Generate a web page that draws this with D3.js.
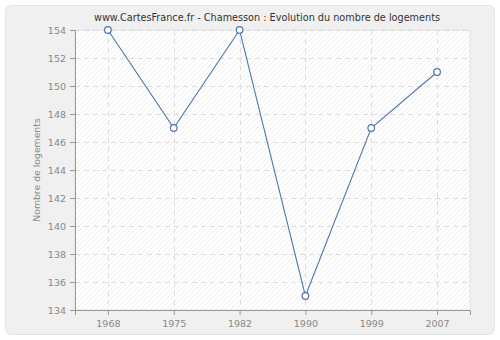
<!DOCTYPE html>
<html>
<head>
<meta charset="utf-8">
<script src="https://cdn.jsdelivr.net/npm/d3@7"></script>
<style>
  body { margin: 0; background: #fff; }
  svg { display: block; font-family: "DejaVu Sans", sans-serif; }
</style>
</head>
<body>
<svg id="chart" width="500" height="340"></svg>
<script>
const years = ["1968", "1975", "1982", "1990", "1999", "2007"];
const logements = [154, 147, 154, 135, 147, 151];
const yTicks = [134, 136, 138, 140, 142, 144, 146, 148, 150, 152, 154];

let chart = d3.select("#chart"),
    margin = {top: 30, right: 30, bottom: 30, left: 75},
    width = +chart.attr("width") - margin.left - margin.right,
    height = +chart.attr("height") - margin.top - margin.bottom;

// outer frame
chart.append("rect")
    .attr("x", 5.5).attr("y", 5.5)
    .attr("width", 489).attr("height", 329)
    .attr("rx", 6).attr("ry", 6)
    .attr("fill", "#f0f0f0")
    .attr("stroke", "#e4e4e4");

// hatch pattern for the plot background
let defs = chart.append("defs");
let pat = defs.append("pattern")
    .attr("id", "hatch")
    .attr("patternUnits", "userSpaceOnUse")
    .attr("width", 5).attr("height", 5);
pat.append("rect").attr("width", 5).attr("height", 5).attr("fill", "#ffffff");
pat.append("path")
    .attr("d", "M0,5 L5,0 M-1,1 L1,-1 M4,6 L6,4")
    .attr("stroke", "#e8e8e8")
    .attr("stroke-width", 0.8);

chart.append("text")
    .attr("x", 267).attr("y", 21)
    .attr("text-anchor", "middle")
    .attr("font-size", 9.7)
    .attr("fill", "#333")
    .text("www.CartesFrance.fr - Chamesson : Evolution du nombre de logements");

let focus = chart.append("g")
    .attr("transform", "translate(" + margin.left + "," + margin.top + ")");

let x = d3.scalePoint()
    .domain(years)
    .range([0, width])
    .padding(0.5);

let y = d3.scaleLinear()
    .domain([134, 154])
    .range([height, 0]);

focus.append("rect")
    .attr("width", width).attr("height", height)
    .attr("fill", "url(#hatch)")
    .attr("stroke", "#e2e2e2");

// grid lines
focus.append("g")
    .selectAll("line")
    .data(yTicks)
    .enter().append("line")
    .attr("x1", 0).attr("x2", width)
    .attr("y1", d => Math.round(y(d)) + 0.5)
    .attr("y2", d => Math.round(y(d)) + 0.5)
    .attr("stroke", "#dddddd")
    .attr("stroke-dasharray", "5,4");

focus.append("g")
    .selectAll("line")
    .data(years)
    .enter().append("line")
    .attr("x1", d => Math.round(x(d)) + 0.5)
    .attr("x2", d => Math.round(x(d)) + 0.5)
    .attr("y1", 0).attr("y2", height)
    .attr("stroke", "#dddddd")
    .attr("stroke-dasharray", "5,4");

// axes
let yAxis = focus.append("g")
    .call(d3.axisLeft(y).tickValues(yTicks).tickSize(5).tickPadding(4));
let xAxis = focus.append("g")
    .attr("transform", "translate(0," + height + ")")
    .call(d3.axisBottom(x).tickSize(5).tickPadding(5));

[xAxis, yAxis].forEach(function(a) {
    a.select(".domain").attr("stroke", "#999");
    a.selectAll(".tick line").attr("stroke", "#999");
    a.selectAll(".tick text")
        .attr("fill", "#888")
        .attr("font-size", 9.5)
        .attr("font-family", "DejaVu Sans, sans-serif");
});

chart.append("text")
    .attr("transform", "translate(40," + (margin.top + height / 2) + ") rotate(-90)")
    .attr("text-anchor", "middle")
    .attr("font-size", 9.3)
    .attr("fill", "#888")
    .text("Nombre de logements");

let line = d3.line()
    .x((d, i) => x(years[i]))
    .y(d => y(d));

focus.append("path")
    .datum(logements)
    .attr("fill", "none")
    .attr("stroke", "#4f77aa")
    .attr("stroke-width", 1.1)
    .attr("d", line);

focus.selectAll("circle")
    .data(logements)
    .enter().append("circle")
    .attr("cx", (d, i) => x(years[i]))
    .attr("cy", d => y(d))
    .attr("r", 3.3)
    .attr("fill", "#fff")
    .attr("stroke", "#4f77aa")
    .attr("stroke-width", 1.2);
</script>
</body>
</html>
